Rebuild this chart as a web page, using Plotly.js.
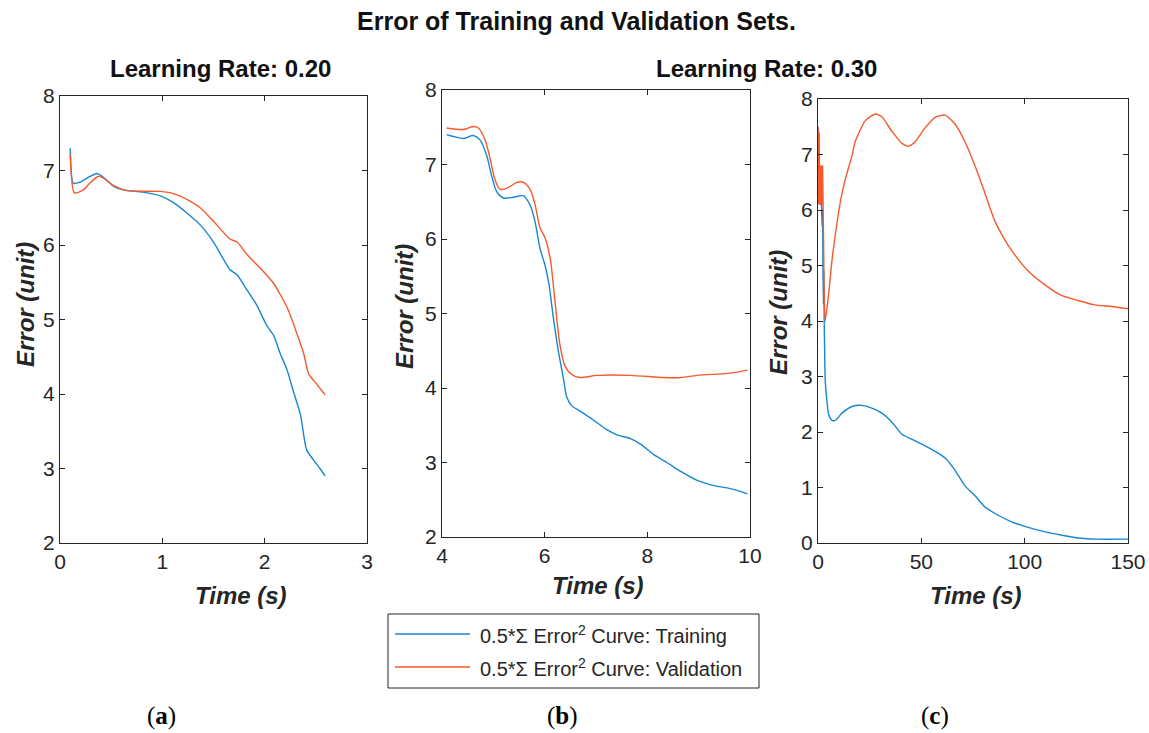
<!DOCTYPE html>
<html>
<head>
<meta charset="utf-8">
<script src="https://cdn.plot.ly/plotly-3.0.1.min.js"></script>
<style>
  html, body { margin: 0; padding: 0; background: #ffffff; }
  #chart { width: 1149px; height: 733px; }
</style>
</head>
<body>
<div id="chart"></div>
<script>
// Learning rate 0.20 — training / validation error over time
const timeA_train = [0.10, 0.13, 0.19, 0.28, 0.36, 0.39, 0.45, 0.52, 0.62, 0.81, 0.98, 1.11, 1.24, 1.37, 1.50, 1.66, 1.73, 1.83, 1.92, 2.02, 2.09, 2.15, 2.22, 2.28, 2.35, 2.41, 2.48, 2.54, 2.59];
const errA_train  = [7.30, 6.83, 6.84, 6.91, 6.96, 6.94, 6.88, 6.79, 6.74, 6.71, 6.66, 6.57, 6.43, 6.27, 6.04, 5.67, 5.60, 5.39, 5.20, 4.92, 4.78, 4.55, 4.32, 4.04, 3.72, 3.25, 3.11, 3.00, 2.90];
const timeA_val   = [0.10, 0.14, 0.23, 0.29, 0.37, 0.42, 0.52, 0.65, 0.98, 1.11, 1.27, 1.37, 1.50, 1.66, 1.73, 1.83, 1.99, 2.09, 2.22, 2.31, 2.38, 2.43, 2.51, 2.59];
const errA_val    = [7.22, 6.70, 6.74, 6.83, 6.92, 6.90, 6.80, 6.73, 6.72, 6.69, 6.59, 6.50, 6.32, 6.08, 6.04, 5.87, 5.64, 5.48, 5.16, 4.83, 4.55, 4.27, 4.13, 3.99];

// Learning rate 0.30, short run
const timeB_train = [4.09, 4.42, 4.61, 4.74, 4.87, 4.97, 5.07, 5.20, 5.39, 5.59, 5.72, 5.81, 5.91, 6.01, 6.08, 6.17, 6.27, 6.37, 6.43, 6.53, 6.69, 6.95, 7.21, 7.41, 7.67, 7.86, 8.12, 8.38, 8.65, 8.97, 9.30, 9.62, 9.95];
const errB_train  = [7.40, 7.35, 7.39, 7.33, 7.12, 6.84, 6.63, 6.55, 6.56, 6.58, 6.45, 6.24, 5.87, 5.64, 5.41, 4.94, 4.48, 4.11, 3.88, 3.76, 3.69, 3.57, 3.44, 3.37, 3.32, 3.25, 3.11, 3.00, 2.88, 2.76, 2.69, 2.65, 2.58];
const timeB_val   = [4.09, 4.42, 4.61, 4.71, 4.84, 4.94, 5.03, 5.13, 5.26, 5.46, 5.59, 5.72, 5.81, 5.91, 6.01, 6.11, 6.20, 6.30, 6.40, 6.53, 6.69, 7.02, 7.67, 8.32, 8.65, 8.97, 9.62, 9.95];
const errB_val    = [7.49, 7.47, 7.51, 7.49, 7.33, 7.07, 6.80, 6.67, 6.68, 6.76, 6.76, 6.66, 6.47, 6.15, 6.01, 5.73, 5.17, 4.57, 4.29, 4.18, 4.14, 4.17, 4.17, 4.14, 4.14, 4.17, 4.20, 4.24];

// Learning rate 0.30, long run
const timeC_train = [0, 0.2, 0.4, 0.6, 0.9, 1.2, 1.5, 1.7, 2.0, 2.2, 2.4, 2.6, 2.8, 3.0, 3.2, 3.5, 4.3, 5.2, 6.8, 8.4, 11.6, 16.4, 21.2, 26.1, 30.9, 35.7, 40.6, 45.4, 51.8, 56.7, 61.5, 66.3, 71.1, 76.0, 80.8, 87.2, 93.7, 100, 110, 118, 126, 135, 150];
const errC_train  = [7.5, 6.2, 7.3, 6.1, 6.7, 6.1, 6.7, 6.05, 5.7, 6.0, 4.95, 4.3, 4.9, 4.0, 3.5, 2.93, 2.56, 2.31, 2.21, 2.21, 2.34, 2.46, 2.48, 2.43, 2.34, 2.18, 1.96, 1.87, 1.75, 1.65, 1.53, 1.31, 1.03, 0.85, 0.65, 0.50, 0.38, 0.30, 0.20, 0.14, 0.09, 0.07, 0.07];
const timeC_val   = [0, 0.3, 0.6, 0.8, 1.0, 1.2, 1.4, 1.6, 1.8, 2.0, 2.2, 2.4, 2.7, 3.0, 3.5, 5.1, 6.8, 9.2, 11.6, 14.0, 16.4, 18.0, 22.9, 27.7, 30.9, 35.7, 40.6, 43.8, 47.0, 51.8, 56.7, 61.5, 66.3, 71.1, 75.9, 80.8, 85.6, 92.1, 96.9, 101.7, 109.8, 117.8, 125.9, 133.9, 142.0, 150];
const errC_val    = [7.5, 6.1, 7.4, 6.1, 6.8, 6.1, 6.8, 6.1, 6.8, 6.1, 6.8, 6.3, 5.4, 4.5, 4.0, 4.47, 5.1, 5.77, 6.3, 6.66, 6.97, 7.23, 7.61, 7.73, 7.68, 7.42, 7.20, 7.15, 7.23, 7.48, 7.67, 7.71, 7.55, 7.23, 6.80, 6.30, 5.80, 5.36, 5.11, 4.90, 4.65, 4.46, 4.37, 4.29, 4.26, 4.22];

// Axis ticks
const ticksA_x = [0, 1, 2, 3];
const ticksB_x = [4, 6, 8, 10];
const ticksC_x = [0, 50, 100, 150];
const ticksAB_y = [2, 3, 4, 5, 6, 7, 8];
const ticksC_y = [0, 1, 2, 3, 4, 5, 6, 7, 8];

// Text
const figTitle = 'Error of Training and Validation Sets.';
const subTitles = ['Learning Rate: 0.20', 'Learning Rate: 0.30'];
const seriesNames = ['0.5*\u03A3 Error<sup>2</sup> Curve: Training', '0.5*\u03A3 Error<sup>2</sup> Curve: Validation'];
const panelTags = ['(<b>a</b>)', '(<b>b</b>)', '(<b>c</b>)'];

const BLUE = '#1787D2';
const ORANGE = '#F55A2C';
const AXC = '#262626';
const W = 1149, H = 733;
const SANS = 'Liberation Sans, Arial, Helvetica, sans-serif';

// panel boxes in pixels: [left, right, top, bottom]
const boxes = [[60, 367, 96, 543], [442, 750, 90, 537], [818, 1128, 99, 543]];
const px = x => x / W;
const py = y => 1 - y / H;

function axisX(box, range, ticks) {
  return {
    domain: [px(box[0]), px(box[1])], range: range, tickvals: ticks,
    showline: true, linecolor: AXC, linewidth: 1, mirror: 'ticks',
    ticks: 'inside', ticklen: 5, tickcolor: AXC, showgrid: false, zeroline: false,
    tickfont: {family: SANS, size: 21, color: AXC}, fixedrange: true
  };
}
function axisY(box, range, ticks) {
  return {
    domain: [py(box[3]), py(box[2])], range: range, tickvals: ticks,
    showline: true, linecolor: AXC, linewidth: 1, mirror: 'ticks',
    ticks: 'inside', ticklen: 5, tickcolor: AXC, showgrid: false, zeroline: false,
    tickfont: {family: SANS, size: 21, color: AXC}, fixedrange: true
  };
}

function line(x, y, color, xa, ya, smooth) {
  return {x: x, y: y, type: 'scatter', mode: 'lines', xaxis: xa, yaxis: ya,
          line: {color: color, width: 1.4, shape: 'spline', smoothing: smooth},
          showlegend: false, hoverinfo: 'skip'};
}

const traces = [
  line(timeA_train, errA_train, BLUE, 'x', 'y', 0.6),
  line(timeA_val, errA_val, ORANGE, 'x', 'y', 0.6),
  line(timeB_train, errB_train, BLUE, 'x2', 'y2', 0.8),
  line(timeB_val, errB_val, ORANGE, 'x2', 'y2', 0.8),
  line(timeC_train, errC_train, BLUE, 'x3', 'y3', 0.6),
  line(timeC_val, errC_val, ORANGE, 'x3', 'y3', 0.6)
];

const ann = [];
function text(x, y, t, size, opts) {
  ann.push(Object.assign({xref: 'paper', yref: 'paper', x: px(x), y: py(y), text: t, showarrow: false,
    xanchor: 'center', yanchor: 'middle', font: {family: SANS, size: size, color: '#111111'}}, opts || {}));
}
text(576, 21, '<b>' + figTitle + '</b>', 25);
text(220, 69, '<b>' + subTitles[0] + '</b>', 24);
text(766, 68, '<b>' + subTitles[1] + '</b>', 24);

// axis titles
const yTitlePos = [[25, 305], [405, 307], [779, 313]];
const xTitlePos = [[241, 595], [598, 585], [976, 595]];
yTitlePos.forEach(p => text(p[0], p[1], '<b><i>Error (unit)</i></b>', 24,
  {textangle: -90, font: {family: SANS, size: 24, color: AXC}}));
xTitlePos.forEach(p => text(p[0], p[1], '<b><i>Time (s)</i></b>', 24,
  {font: {family: SANS, size: 24, color: AXC}}));

// tags under each panel
const tagX = [161, 562, 935];
tagX.forEach((x, i) => text(x, 716, panelTags[i], 25,
  {font: {family: 'Liberation Serif, Times New Roman, serif', size: 25, color: '#000000'}}));

// legend box
const leg = {l: 388, r: 759, t: 614, b: 688};
const shapes = [
  {type: 'rect', xref: 'paper', yref: 'paper', x0: px(leg.l), x1: px(leg.r), y0: py(leg.b), y1: py(leg.t),
   line: {color: AXC, width: 1}, fillcolor: 'rgba(255,255,255,1)'},
  {type: 'line', xref: 'paper', yref: 'paper', x0: px(395), x1: px(470), y0: py(634), y1: py(634), line: {color: BLUE, width: 1.4}},
  {type: 'line', xref: 'paper', yref: 'paper', x0: px(395), x1: px(470), y0: py(667), y1: py(667), line: {color: ORANGE, width: 1.4}}
];
text(478, 634, seriesNames[0], 20, {xanchor: 'left', font: {family: SANS, size: 20, color: AXC}});
text(478, 667, seriesNames[1], 20, {xanchor: 'left', font: {family: SANS, size: 20, color: AXC}});

const layout = {
  width: W, height: H, margin: {l: 0, r: 0, t: 0, b: 0},
  paper_bgcolor: '#ffffff', plot_bgcolor: '#ffffff', showlegend: false,
  xaxis: axisX(boxes[0], [0, 3], ticksA_x), yaxis: axisY(boxes[0], [2, 8], ticksAB_y),
  xaxis2: Object.assign(axisX(boxes[1], [4, 10], ticksB_x), {anchor: 'y2'}),
  yaxis2: Object.assign(axisY(boxes[1], [2, 8], ticksAB_y), {anchor: 'x2'}),
  xaxis3: Object.assign(axisX(boxes[2], [0, 150], ticksC_x), {anchor: 'y3'}),
  yaxis3: Object.assign(axisY(boxes[2], [0, 8], ticksC_y), {anchor: 'x3'}),
  annotations: ann, shapes: shapes
};

Plotly.newPlot('chart', traces, layout, {staticPlot: true, displayModeBar: false});
</script>
</body>
</html>
